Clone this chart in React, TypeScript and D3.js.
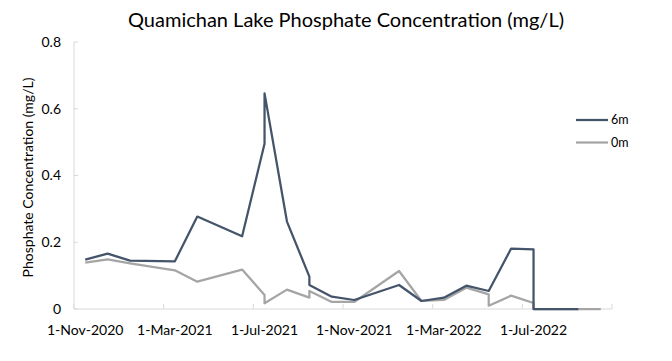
import React from 'react';
import * as d3 from 'd3';

const months = [
  '2020-11', '2020-12', '2021-01', '2021-02', '2021-03', '2021-04', '2021-05', '2021-06',
  '2021-07', '2021-08', '2021-09', '2021-10', '2021-11', '2021-12', '2022-01', '2022-02',
  '2022-03', '2022-04', '2022-05', '2022-06', '2022-07', '2022-08', '2022-09', '2022-10',
];

const tickMonths = ['2020-11', '2021-03', '2021-07', '2021-11', '2022-03', '2022-07'];
const tickLabels = ['1-Nov-2020', '1-Mar-2021', '1-Jul-2021', '1-Nov-2021', '1-Mar-2022', '1-Jul-2022'];
const yTicks = [0, 0.2, 0.4, 0.6, 0.8];
const yTickLabels = ['0', '0.2', '0.4', '0.6', '0.8'];

const sixMDates = [
  '2020-11', '2020-12', '2021-01', '2021-03', '2021-04', '2021-06', '2021-07', '2021-07',
  '2021-08', '2021-09', '2021-09', '2021-10', '2021-11', '2022-01', '2022-02', '2022-03',
  '2022-04', '2022-05', '2022-06', '2022-07', '2022-07', '2022-08', '2022-09',
];
const sixMValues = [
  0.148, 0.166, 0.145, 0.143, 0.277, 0.218, 0.495, 0.646,
  0.262, 0.097, 0.072, 0.037, 0.027, 0.072, 0.024, 0.034,
  0.070, 0.054, 0.181, 0.179, 0, 0, 0,
];

const zeroMDates = [
  '2020-11', '2020-12', '2021-01', '2021-03', '2021-04', '2021-06', '2021-07', '2021-07',
  '2021-08', '2021-09', '2021-09', '2021-10', '2021-11', '2022-01', '2022-02', '2022-03',
  '2022-04', '2022-05', '2022-05', '2022-06', '2022-07', '2022-07', '2022-08', '2022-09', '2022-10',
];
const zeroMValues = [
  0.139, 0.149, 0.137, 0.116, 0.082, 0.118, 0.042, 0.017,
  0.058, 0.034, 0.054, 0.021, 0.021, 0.114, 0.024, 0.027,
  0.064, 0.044, 0.010, 0.040, 0.018, 0, 0, 0, 0,
];

const seriesNames = ['6m', '0m'];
const seriesColors = ['#44546A', '#A5A5A5'];

const FONT = 'Lato, "Open Sans", sans-serif';

export default function App() {
  const W = 672;
  const H = 361;
  const left = 74;
  const right = 612;
  const top = 42;
  const bottom = 309;

  const x = d3.scaleBand<string>().domain(months).range([left, right]).paddingInner(0).paddingOuter(0);
  const xc = (m: string) => (x(m) as number) + x.bandwidth() / 2;
  const y = d3.scaleLinear().domain([0, 0.8]).range([bottom, top]);

  const line = d3
    .line<[string, number]>()
    .x((d) => xc(d[0]))
    .y((d) => y(d[1]));

  const sixM: [string, number][] = sixMDates.map((d, i) => [d, sixMValues[i]]);
  const zeroM: [string, number][] = zeroMDates.map((d, i) => [d, zeroMValues[i]]);

  const tickXs = [...tickMonths.map((m) => x(m) as number), right];

  return (
    <svg
      width={W}
      height={H}
      style={{ position: 'absolute', left: 0, top: 0, background: '#fff' }}
      fontFamily={FONT}
    >
      <rect x={0} y={0} width={W} height={H} fill="#fff" />
      <text x={346} y={27} textAnchor="middle" fontSize={20} fill="#000">
        Quamichan Lake Phosphate Concentration (mg/L)
      </text>

      {/* y axis */}
      <line x1={left} x2={left} y1={top} y2={bottom} stroke="#D9D9D9" strokeWidth={1} />
      {yTicks.map((t, i) => (
        <g key={'yt' + i}>
          <line x1={left} x2={left + 4} y1={y(t)} y2={y(t)} stroke="#D9D9D9" strokeWidth={1} />
          <text x={61} y={y(t)} dy="0.35em" textAnchor="end" fontSize={14} fill="#000">
            {yTickLabels[i]}
          </text>
        </g>
      ))}
      <text
        transform={`translate(28.5,${(top + bottom) / 2 + 2}) rotate(-90)`}
        textAnchor="middle"
        dy="0.35em"
        fontSize={14}
        fill="#000"
      >
        Phosphate Concentration (mg/L)
      </text>

      {/* x axis */}
      <line x1={left} x2={right} y1={bottom} y2={bottom} stroke="#D9D9D9" strokeWidth={1} />
      {tickXs.map((tx, i) => (
        <line key={'xt' + i} x1={tx} x2={tx} y1={bottom} y2={bottom - 5} stroke="#D9D9D9" strokeWidth={1} />
      ))}
      {tickMonths.map((m, i) => (
        <text key={'xl' + i} x={xc(m)} y={335} textAnchor="middle" fontSize={14} fill="#000">
          {tickLabels[i]}
        </text>
      ))}

      {/* series */}
      <path d={line(zeroM) || ''} fill="none" stroke={seriesColors[1]} strokeWidth={2.25} strokeLinejoin="round" />
      <path d={line(sixM) || ''} fill="none" stroke={seriesColors[0]} strokeWidth={2.25} strokeLinejoin="round" />

      {/* legend */}
      {seriesNames.map((n, i) => (
        <g key={'lg' + i}>
          <line x1={576} x2={608} y1={120 + i * 22.5} y2={120 + i * 22.5} stroke={seriesColors[i]} strokeWidth={2.25} />
          <text x={611} y={120 + i * 22.5} dy="0.35em" fontSize={12.5} fill="#000">
            {n}
          </text>
        </g>
      ))}
    </svg>
  );
}
